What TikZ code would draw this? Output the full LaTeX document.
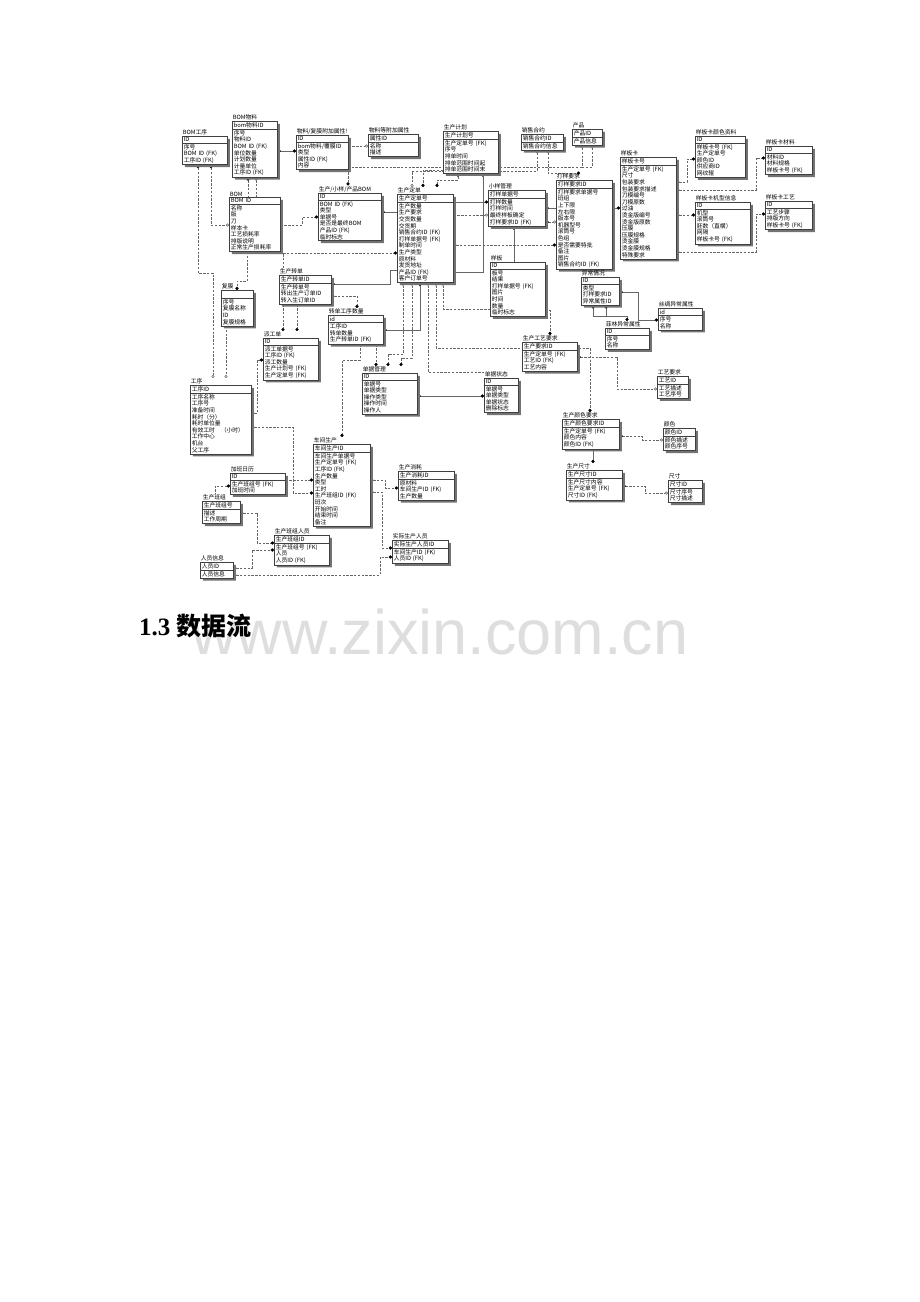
\documentclass[tikz,border=0pt]{standalone}
\usepackage{fontspec}
\setmainfont{Liberation Serif}
\newfontfamily\cjk{Noto Sans CJK SC}
\newfontfamily\wmfont{Liberation Sans}
\usetikzlibrary{shapes.multipart,shadows,arrows.meta}
\pgfdeclarelayer{bg}
\pgfsetlayers{bg,main}

\tikzset{
  tabfont/.style={font=\cjk\fontsize{5.8}{6.6}\selectfont},
  ertab/.style={tabfont, draw=black!75, line width=.5pt, fill=white,
    rectangle split, rectangle split parts=2, align=left,
    anchor=north west, inner xsep=1.5pt, inner ysep=1pt,
    drop shadow={shadow xshift=2.5pt, shadow yshift=-2.5pt, fill=black!55, opacity=1}},
  ertitle/.style={tabfont, anchor=south west, inner sep=.6pt},
  rl/.style={draw=black!60, line width=.45pt},
  fk/.style={rl, dash pattern=on 2.4pt off 1.4pt},
  fd/.tip={Circle[length=3.2pt,color=black]},
  od/.tip={Circle[length=3pt,fill=white]},
}

% table: name, x, y, text width, title, key, fields
\newcommand\ertbl[7]{%
  \node[ertitle] (#1t) at (#2,#3) {#5};
  \node[ertab, text width=#4pt] (#1) at (#2,#3) {#6\nodepart{two}#7};
}

\begin{document}
\begin{tikzpicture}[x=1pt,y=-1pt]
  \useasboundingbox (0,0) rectangle (920,1302);

  % top row
  \ertbl{bomgx}{182}{136}{42}{BOM工序}{ID}{序号\\BOM ID (FK)\\工序ID (FK)}
  \ertbl{bomwl}{232}{121}{42}{BOM物料}{bom物料ID}{序号\\物料ID\\BOM ID (FK)\\单位数量\\计划数量\\计量单位\\工序ID (FK)}
  \ertbl{wlfm}{296}{135}{49}{物料/复膜附加属性!}{ID}{bom物料/覆膜ID\\类型\\属性ID (FK)\\内容}
  \ertbl{wlsx}{368}{134}{47}{物料等附加属性}{属性ID}{名称\\描述}
  \ertbl{scjh}{443}{131}{52}{生产计划}{生产计划号}{生产定单号 (FK)\\序号\\排单时间\\排单范围时间起\\排单范围时间末}
  \ertbl{xshy}{521}{134}{39}{销售合约}{销售合约ID}{销售合约信息}
  \ertbl{cp}{572}{129}{27}{产品}{产品ID}{产品信息}
  \ertbl{ybk}{620}{157}{53}{样板卡}{样板卡号}{生产定单号 (FK)\\尺寸\\包装要求\\包装要求描述\\刀模编号\\刀模原数\\过油\\烫金版编号\\烫金版原数\\压膜\\压膜规格\\烫金膜\\烫金膜规格\\特殊要求}
  \ertbl{ybkys}{695}{136}{47}{样板卡颜色资料}{ID}{样板卡号 (FK)\\生产定单号\\颜色ID\\供应商ID\\网纹辊}
  \ertbl{ybkcl}{765}{146}{44}{样板卡材料}{ID}{材料ID\\材料规格\\样板卡号 (FK)}
  \ertbl{ybkjx}{695}{202}{52}{样板卡机型信息}{ID}{机型\\滚筒号\\胚数（直横）\\网隔\\样板卡号 (FK)}
  \ertbl{ybkgy}{765}{201}{44}{样板卡工艺}{ID}{工艺步骤\\排版方向\\样板卡号 (FK)}

  % middle
  \ertbl{bom}{229}{197}{48}{BOM}{BOM ID}{名称\\版\\刀\\样本卡\\工艺损耗率\\排版说明\\正常生产损耗率}
  \ertbl{scbom}{318}{193}{60}{生产/小样/产品BOM}{ID}{BOM ID (FK)\\类型\\单据号\\是否是最终BOM\\产品ID (FK)\\临时标志}
  \ertbl{scdd}{397}{194}{53}{生产定单}{生产定单号}{生产数量\\生产要求\\交货数量\\交货期\\销售合约ID (FK)\\打样单据号 (FK)\\制单时间\\生产类型\\原材料\\发货地址\\产品ID (FK)\\客户订单号}
  \ertbl{xygl}{488}{190}{54}{小样管理}{打样单据号}{打样数量\\打样时间\\最终样板确定\\打样要求ID (FK)}
  \ertbl{dyyq}{556}{180}{53}{打样要求}{打样要求ID}{打样要求单据号\\班组\\上下限\\左右限\\版本号\\机器型号\\滚筒号\\色组\\是否需要特批\\备注\\图片\\销售合约ID (FK)}
  \ertbl{fm}{221}{290}{29}{复膜}{\vphantom{序}}{序号\\复膜名称\\ID\\复膜规格}
  \ertbl{sczd}{279}{275}{49}{生产转单}{生产转单ID}{生产转单号\\转出生产订单ID\\转入生订单ID}
  \ertbl{zdgx}{328}{315}{52}{转单工序数量}{id}{工序ID\\转单数量\\生产转单ID (FK)}
  \ertbl{pgd}{263}{338}{52}{派工单}{ID}{派工单据号\\工序ID (FK)\\派工数量\\生产计划号 (FK)\\生产定单号 (FK)}
  \ertbl{yb}{490}{262}{52}{样板}{ID}{板号\\结果\\打样单据号 (FK)\\图片\\时间\\数量\\临时标志}
  \ertbl{ycqk}{581}{277}{35}{异常情况}{ID}{类型\\打样要求ID\\异常属性ID}
  \ertbl{scyc}{658}{308}{41}{丝绸异常属性}{id}{序号\\名称}
  \ertbl{flyc}{605}{328}{41}{菲林异常属性}{ID}{序号\\名称}
  \ertbl{scgy}{522}{342}{52}{生产工艺要求}{生产要求ID}{生产定单号 (FK)\\工艺ID (FK)\\工艺内容}
  \ertbl{gyyq}{657}{376}{28}{工艺要求}{工艺ID}{工艺描述\\工艺序号}
  \ertbl{djgl}{362}{373}{52}{单据管理}{ID}{单据号\\单据类型\\操作类型\\操作时间\\操作人}
  \ertbl{djzt}{484}{378}{31}{单据状态}{ID}{单据号\\单据类型\\单据状态\\删除标志}

  % bottom
  \ertbl{gx}{190}{385}{58}{工序}{工序ID}{工序名称\\工序号\\准备时间\\耗时（分）\\耗时单位量\\有效工时　（小时）\\工作中心\\机台\\父工序}
  \ertbl{sccs}{562}{419}{54}{生产颜色要求}{生产颜色要求ID}{生产定单号 (FK)\\颜色内容\\颜色ID (FK)}
  \ertbl{ys}{663}{428}{29}{颜色}{颜色ID}{颜色描述\\颜色序号}
  \ertbl{cjsc}{313}{444}{54}{车间生产}{车间生产ID}{车间生产单据号\\生产定单号 (FK)\\工序ID (FK)\\生产数量\\类型\\工时\\生产班组ID (FK)\\班次\\开始时间\\结束时间\\备注}
  \ertbl{jbrl}{230}{473}{52}{加班日历}{ID}{生产班组号 (FK)\\加班时间}
  \ertbl{scxh}{398}{471}{53}{生产消耗}{生产消耗ID}{原材料\\车间生产ID (FK)\\生产数量}
  \ertbl{sccc}{566}{470}{53}{生产尺寸}{生产尺寸ID}{生产尺寸内容\\生产定单号 (FK)\\尺寸ID (FK)}
  \ertbl{cc}{668}{480}{31}{尺寸}{尺寸ID}{尺寸序号\\尺寸描述}
  \ertbl{scbz}{202}{501}{35}{生产班组}{生产班组号}{描述\\工作周期}
  \ertbl{scbzry}{274}{535}{52}{生产班组人员}{生产班组ID}{生产班组号 (FK)\\人员\\人员ID (FK)}
  \ertbl{ryxx}{200}{562}{30}{人员信息}{人员ID}{人员信息}
  \ertbl{sjscry}{392}{540}{53}{实际生产人员}{实际生产人员ID}{车间生产ID (FK)\\人员ID (FK)}

  % heading
  \node[font=\wmfont\fontsize{63}{70}\selectfont, text=black!13] (wm) at (440,632) {www.zixin.com.cn};
  \node[font=\fontsize{25}{30}\selectfont\bfseries, anchor=west, inner sep=0pt] (hd) at (139,626) {1.3 {\cjk\bfseries 数据流}};

  \begin{pgfonlayer}{bg}
    %solid
    \draw[rl,fd-fd] (bomwl.east |- 0,151) -- (wlfm.west |- 0,151);
    \draw[rl,fd-] (scbom.east |- 0,212) -- (scdd.west |- 0,212);
    \draw[rl,fd-] (scjh.south -| 483,0) -- (483,272) -- (scdd.east |- 0,272);
    \draw[rl,-fd] (scdd.east |- 0,202) -- (xygl.west |- 0,202);
    \draw[rl,fd-] (xygl.east |- 0,208) -- (dyyq.west |- 0,208);
    \draw[rl,-fd] (dyyq.east |- 0,208) -- (ybk.west |- 0,208);
    \draw[rl,fd-] (xygl.south -| 514,0) -- (yb.north -| 514,0);
    \draw[rl,fd-fd] (djgl.east |- 0,396) -- (djzt.west |- 0,396);
    \draw[rl,fd-fd] (ycqk.east |- 0,292) -- (638,292) -- (638,320) -- (scyc.west |- 0,320);
    \draw[rl,fd-fd] (ycqk.south -| 606,0) -- (606,316) -- (627,316) -- (flyct.north -| 627,0);
    \draw[rl,fd-] (ycqk.south -| 593,0) -- (593,316) -- (606,316);
    \draw[rl,fd-fd] (scdd.south -| 420,0) -- (420,330) -- (zdgx.east |- 0,330);
    \draw[rl,fd-] (sczd.east |- 0,284) -- (390,284) -- (390,270) -- (scdd.west |- 0,270);
    \draw[rl,-fd] (sccs.south -| 593,0) -- (sccct.north -| 593,0);
    %dashed
    \draw[fk,fd-od] (bomgx.south -| 198,0) -- (198,273) -- (213,273) -- (gxt.north -| 213,0);
    \draw[fk,fd-od] (bomgx.south -| 211,0) |- (bom.west |- 0,225);
    \draw[fk,fd-] (bomwl.south -| 248,0) -- (bom.north -| 248,0);
    \draw[fk,od-] (bomwl.south -| 256,0) -- (bom.north -| 256,0);
    \draw[fk,-od] (wlfm.east |- 0,146) -- (wlsx.west |- 0,146);
    \draw[fk,od-fd] (cp.south -| 582,0) -- (582,167) -- (348,167) -- (scbomt.north -| 348,0);
    \draw[fk,od-] (cp.south -| 592,0) -- (592,167) -- (582,167);
    \draw[fk,od-od] (xshy.south -| 537,0) -- (537,171) -- (412,171) -- (scddt.north -| 412,0);
    \draw[fk,od-fd] (xshy.south -| 548,0) |- (dyyqt.north -| 580,0);
    \draw[fk,-fd] (scjh.west |- 0,170) -- (423,170) -- (scddt.north -| 423,0);
    \draw[fk,fd-fd] (scjh.south -| 458,0) -- (458,180) -- (437,180) -- (scddt.north -| 437,0);
    \draw[fk,-od] (scdd.east |- 0,215) -- (xygl.west |- 0,215);
    \draw[fk,fd-od] (xygl.east |- 0,222) -- (dyyq.west |- 0,222);
    \draw[fk,od-fd] (scdd.east |- 0,245) -- (dyyq.west |- 0,245);
    \draw[fk,od-fd] (ybk.east |- 0,182) -- (687,182) -- (687,159) -- (ybkys.west |- 0,159);
    \draw[fk,od-fd] (ybk.east |- 0,215) -- (ybkjx.west |- 0,215);
    \draw[fk,od-fd] (ybk.east |- 0,190) -- (756,190) -- (756,158) -- (ybkcl.west |- 0,158);
    \draw[fk,od-fd] (ybk.east |- 0,252) -- (756,252) -- (756,214) -- (ybkgy.west |- 0,214);
    \draw[fk,-fd] (bom.south -| 247,0) -- (247,281) -- (237,281) -- (fm.north -| 237,0);
    \draw[fk,-od] (fm.south -| 226,0) -- (gxt.north -| 226,0);
    \draw[fk,-fd] (bom.east |- 0,225) -- (302,225) -- (302,217) -- (scbom.west |- 0,217);
    \draw[fk,-fd] (sczdt.north -| 283,0) -- (283,253) -- (scdd.west |- 0,253);
    \draw[fk,-fd] (sczd.south -| 283,0) -- (pgdt.north -| 283,0);
    \draw[fk,-fd] (sczd.south -| 297,0) -- (pgdt.north -| 297,0);
    \draw[fk,od-fd] (sczd.east |- 0,296) -- (357,296) -- (zdgxt.north -| 357,0);
    \draw[fk,od-fd] (gx.east |- 0,413) -- (257,413) -- (257,360) -- (pgd.west |- 0,360);
    \draw[fk,od-fd] (gx.east |- 0,427) -- (293,427) -- (293,493) -- (cjsc.west |- 0,493);
    \draw[fk,-fd] (jbrl.east |- 0,480) -- (cjsc.west |- 0,480);
    \draw[fk,-fd] (zdgx.south -| 376,0) -- (djglt.north -| 376,0);
    \draw[fk,od-fd] (scdd.south -| 403,0) -- (403,354) -- (388,354) -- (djglt.north -| 388,0);
    \draw[fk,od-fd] (scdd.south -| 412,0) -- (412,358) -- (401,358) -- (djglt.north -| 401,0);
    \draw[fk,-fd] (zdgx.south -| 360,0) -- (360,360) -- (342,360) -- (cjsct.north -| 342,0);
    \draw[fk,od-] (scdd.south -| 428,0) -- (428,372) -- (djzt.west |- 0,372);
    \draw[fk,od-fd] (scdd.south -| 436,0) -- (436,348) -- (590,348) -- (sccst.north -| 590,0);
    \draw[fk,od-] (scdd.south -| 443,0) -- (443,309) -- (yb.west |- 0,309);
    \draw[fk,fd-od] (scgy.east |- 0,357) -- (617,357) -- (617,389) -- (gyyq.west |- 0,389);
    \draw[fk,-fd] (yb.east |- 0,310) -- (550,310) -- (scgyt.north -| 550,0);
    \draw[fk,fd-od] (sccs.east |- 0,436) -- (642,436) -- (642,440) -- (ys.west |- 0,440);
    \draw[fk,fd-od] (sccc.east |- 0,486) -- (645,486) -- (645,493) -- (cc.west |- 0,493);
    \draw[fk,fd-] (jbrl.west |- 0,486) -- (215,486) -- (scbzt.north -| 215,0);
    \draw[fk,od-fd] (scbz.east |- 0,513) -- (257,513) -- (257,543) -- (scbzry.west |- 0,543);
    \draw[fk,od-fd] (ryxx.east |- 0,568) -- (252,568) -- (252,550) -- (scbzry.west |- 0,550);
    \draw[fk,od-fd] (ryxx.east |- 0,575) -- (380,575) -- (380,557) -- (sjscry.west |- 0,557);
    \draw[fk,od-fd] (cjsc.east |- 0,480) -- (385,480) -- (385,488) -- (scxh.west |- 0,488);
    \draw[fk,od-fd] (cjsc.east |- 0,492) -- (382,492) -- (382,548) -- (sjscry.west |- 0,548);
  \end{pgfonlayer}
\end{tikzpicture}
\end{document}
